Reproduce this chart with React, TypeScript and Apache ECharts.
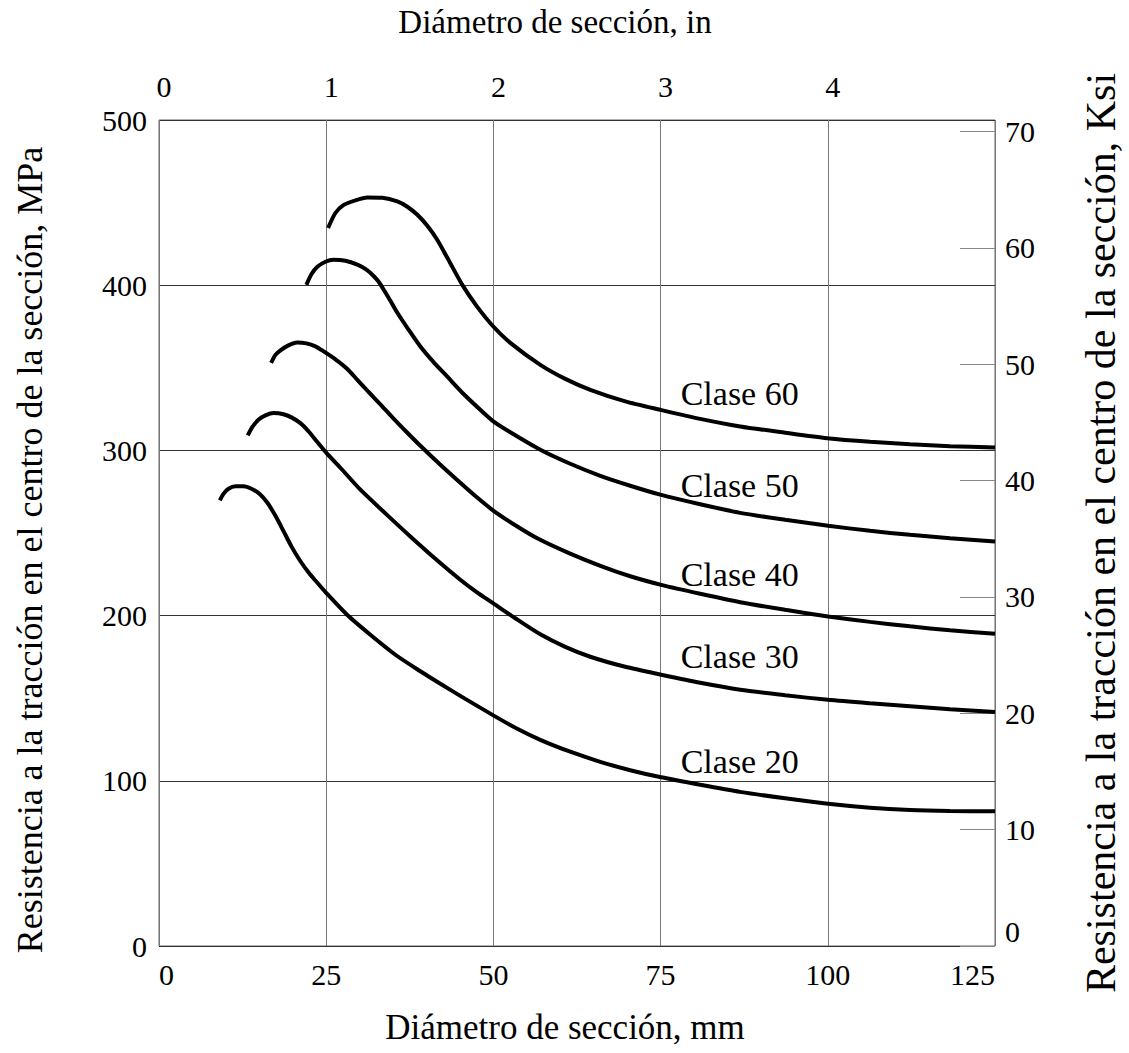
import React, { useEffect, useRef } from "react";
import * as echarts from "echarts";

const xTicksMm = [0, 25, 50, 75, 100, 125];
const topTickValues = [0, 1, 2, 3, 4];
const yTicksMPa = [0, 100, 200, 300, 400, 500];
const rightTicksKsi = [0, 10, 20, 30, 40, 50, 60, 70];

const seriesNames = ["Clase 20", "Clase 30", "Clase 40", "Clase 50", "Clase 60"];

const clase20: number[][] = [[9.09,269.7],[9.64,273.7],[10.39,276.8],[11.43,278.3],[12.63,278.3],[13.82,276.8],[15.02,273.7],[16.21,268.3],[17.41,260.4],[18.6,251.3],[19.8,241.9],[21.0,233.8],[22.34,226.2],[23.54,220.5],[24.99,213.8],[28.12,200.5],[31.6,188.4],[35.34,176.3],[39.08,166.3],[42.07,158.7],[45.8,149.6],[49.99,139.6],[53.27,132.1],[57.01,124.8],[61.49,117.6],[65.97,111.5],[70.46,106.4],[75.09,102.1],[80.92,97.6],[86.9,93.3],[93.62,89.4],[100.04,86.1],[106.32,83.7],[112.3,82.3],[118.28,81.7],[125,81.5]];
const clase30: number[][] = [[13.27,309.1],[13.97,314.3],[14.87,318.5],[15.91,321.2],[17.15,322.6],[18.6,321.9],[19.8,320.0],[21.14,316.5],[22.34,311.6],[23.64,305.2],[24.99,298.7],[27.12,289.5],[30.11,276.2],[33.85,261.9],[37.58,247.9],[41.32,234.4],[45.05,221.7],[47.44,214.4],[49.99,207.4],[53.27,198.4],[57.01,188.7],[60.74,181.1],[64.48,175.1],[69.71,169.0],[75.09,164.2],[80.92,159.3],[86.9,155.1],[93.62,151.8],[100.04,149.0],[106.32,146.9],[112.3,145.1],[118.28,143.3],[125,141.6]];
const clase40: number[][] = [[16.77,353.0],[17.41,357.8],[18.16,360.6],[19.35,363.6],[20.65,365.3],[22.04,364.8],[23.39,363.0],[24.63,359.9],[26.38,355.1],[28.12,349.4],[29.66,342.7],[31.31,335.5],[33.1,327.9],[35.04,319.4],[36.98,311.3],[39.08,302.8],[42.07,291.3],[45.05,280.4],[47.44,271.9],[50.03,263.4],[53.27,254.7],[56.56,246.8],[61.04,238.3],[66.0,230.1],[70.46,223.8],[75.09,218.6],[80.92,213.2],[86.9,208.1],[93.62,203.5],[100.04,199.5],[106.32,196.2],[112.3,193.5],[118.28,191.1],[125,189.0]];
const clase50: number[][] = [[22.04,400.2],[22.79,406.6],[23.68,411.1],[24.88,414.2],[26.08,415.4],[27.87,414.8],[29.66,412.4],[31.01,409.4],[32.05,405.7],[32.95,401.5],[33.7,396.6],[34.59,390.6],[35.64,383.3],[37.28,373.3],[39.08,362.9],[41.02,353.6],[43.11,344.6],[45.5,334.3],[48.04,324.6],[49.99,317.6],[52.53,311.0],[57.02,300.4],[61.49,291.9],[65.99,284.6],[70.46,278.6],[74.95,273.2],[80.92,267.4],[86.9,262.2],[93.62,258.0],[100.05,254.4],[106.32,251.3],[112.3,248.9],[118.28,246.8],[125,244.9]];
const clase60: number[][] = [[25.28,434.6],[26.37,443.7],[27.57,448.5],[29.36,451.4],[31.16,453.1],[33.4,452.9],[35.64,450.7],[37.13,447.5],[38.63,442.6],[40.12,436.0],[41.62,427.4],[43.11,416.6],[45.35,400.2],[47.59,386.9],[49.99,375.0],[52.53,365.1],[57.02,351.8],[60.75,343.3],[64.49,336.7],[69.72,329.7],[74.95,324.6],[80.92,319.1],[86.9,314.5],[93.62,310.7],[99.9,307.4],[106.32,305.2],[112.3,303.7],[118.28,302.5],[125,301.8]];

const allSeries = [clase20, clase30, clase40, clase50, clase60];
// label anchor positions in data coordinates (mm, MPa)
const labelX = [78, 78, 78, 78, 78];
const labelY = [111.5, 175.5, 225, 278.5, 334.5];

const FONT = "Liberation Serif";

export default function App() {
  const ref = useRef<HTMLDivElement>(null);
  useEffect(() => {
    if (!ref.current) return;
    const chart = echarts.init(ref.current, null, { renderer: "svg" });
    const gridLeft = 159, gridTop = 120, gridW = 836, gridH = 826;
    const lbl = { fontSize: 30, fontFamily: FONT, color: "#000" };
    const option: any = {
      animation: false,
      backgroundColor: "#ffffff",
      textStyle: { fontFamily: FONT, color: "#000" },
      grid: {
        left: gridLeft, top: gridTop, width: gridW, height: gridH,
        show: true, borderColor: "#666", borderWidth: 1, backgroundColor: "transparent",
      },
      xAxis: [
        {
          type: "value", position: "bottom", min: 0, max: 125, interval: 25,
          axisLine: { show: false, onZero: false }, axisTick: { show: false },
          splitLine: { show: true, lineStyle: { color: "#777", width: 1 } },
          axisLabel: { ...lbl, margin: 13, customValues: xTicksMm,
            alignMinLabel: "left", alignMaxLabel: "right" },
        },
        {
          type: "value", position: "top", min: -0.03, max: 4.97,
          axisLine: { show: false, onZero: false }, axisTick: { show: false }, splitLine: { show: false },
          axisLabel: { ...lbl, margin: 19, customValues: topTickValues,
            formatter: (v: number) => String(Math.round(v)) },
        },
      ],
      yAxis: [
        {
          type: "value", position: "left", min: 0, max: 500, interval: 100,
          axisLine: { show: false, onZero: false }, axisTick: { show: false },
          splitLine: { show: true, lineStyle: { color: "#333", width: 1 } },
          axisLabel: { ...lbl, margin: 12, customValues: yTicksMPa },
        },
        {
          type: "value", position: "right", min: 0, max: 71,
          axisLine: { show: false, onZero: false },
          axisTick: { show: true, inside: true, length: 35, lineStyle: { color: "#888", width: 1 },
            customValues: rightTicksKsi },
          splitLine: { show: false },
          axisLabel: { ...lbl, margin: 10, customValues: rightTicksKsi,
            verticalAlignMinLabel: "bottom" },
        },
      ],
      series: allSeries.map((d, i) => ({
        name: seriesNames[i], type: "line", xAxisIndex: 0, yAxisIndex: 0,
        data: d, showSymbol: false, smooth: 0.25,
        lineStyle: { color: "#000", width: 4 },
        z: 5,
      })),
    };
    chart.setOption(option);

    const labels = seriesNames.map((n, i) => {
      const p = chart.convertToPixel({ xAxisIndex: 0, yAxisIndex: 0 }, [labelX[i], labelY[i]]);
      return {
        type: "text", x: p[0], y: p[1],
        style: { text: n, fontSize: 34, fontFamily: FONT, fill: "#000", textAlign: "left", textVerticalAlign: "middle" },
      };
    });
    chart.setOption({
      graphic: [
        ...labels,
        { type: "text", x: 555, y: 22, style: { text: "Diámetro de sección, in", fontSize: 33, fontFamily: FONT, fill: "#000", textAlign: "center", textVerticalAlign: "middle" } },
        { type: "text", x: 565, y: 1027, style: { text: "Diámetro de sección, mm", fontSize: 35, fontFamily: FONT, fill: "#000", textAlign: "center", textVerticalAlign: "middle" } },
        { type: "text", x: 30, y: 550, rotation: Math.PI / 2, style: { text: "Resistencia a la tracción en el centro de la sección, MPa", fontSize: 36, fontFamily: FONT, fill: "#000", textAlign: "center", textVerticalAlign: "middle" } },
        { type: "text", x: 1101, y: 533, rotation: Math.PI / 2, style: { text: "Resistencia a la tracción en el centro de la sección, Ksi", fontSize: 42, fontFamily: FONT, fill: "#000", textAlign: "center", textVerticalAlign: "middle" } },
      ],
    });
    return () => chart.dispose();
  }, []);
  return <div ref={ref} style={{ position: "absolute", left: 0, top: 0, width: 1129, height: 1053 }} />;
}
